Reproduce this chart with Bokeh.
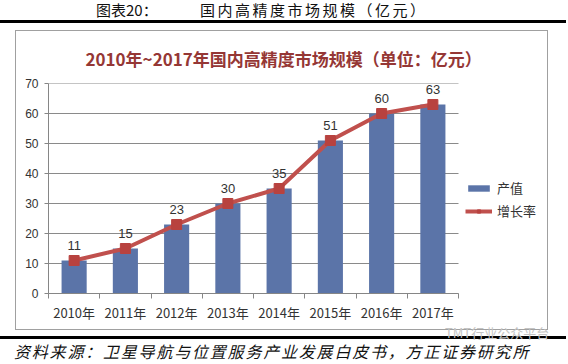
from bokeh.plotting import figure
from bokeh.models import (ColumnDataSource, FixedTicker, Legend, LegendItem, Title,
                          Div, Range1d)
from bokeh.layouts import column, row
from bokeh.core.properties import value
from bokeh.embed import file_html
from bokeh.resources import INLINE

# ---- data ----
categories = ["2010年", "2011年", "2012年", "2013年", "2014年", "2015年", "2016年", "2017年"]
output_values = [11, 15, 23, 30, 35, 51, 60, 63]      # 产值
growth_values = [11, 15, 23, 30, 35, 51, 60, 63]      # 增长率 line (drawn at same values)
y_ticks = [0, 10, 20, 30, 40, 50, 60, 70]

header_left = "图表20："
header_right = "国内高精度市场规模（亿元）"
chart_title = "2010年~2017年国内高精度市场规模（单位：亿元）"
source_text = "资料来源：卫星导航与位置服务产业发展白皮书，方正证券研究所"
watermark = "TMT行业公众平台"
legend_labels = ["产值", "增长率"]

CJK = "Noto Sans CJK SC"
LAT = "Liberation Sans"

# ---- layout constants (pixels) ----
PAGE_W = 566
FIG_W, FIG_H = 531, 298
BL, BR, BT, BB = 32, 3, 51, 36
CAT_PX = 410 / len(categories)           # pixel width of one category slot
frame_w = FIG_W - BL - BR
x_end = -0.5 + frame_w / CAT_PX           # frame extends right to hold the legend

xs = list(range(len(categories)))
src = ColumnDataSource(dict(x=xs, bar=output_values, line=growth_values,
                            lbl=[str(v) for v in output_values]))
grid_src = ColumnDataSource(dict(y=y_ticks))

p = figure(width=FIG_W, height=FIG_H, output_backend="svg", toolbar_location=None,
           x_range=Range1d(-0.5, x_end), y_range=Range1d(0, 70),
           min_border_left=BL, min_border_right=BR, min_border_top=BT, min_border_bottom=BB)
p.background_fill_color = "white"
p.border_fill_color = "white"
p.outline_line_color = None

# horizontal gridlines limited to the category area
p.segment(x0=-0.5, x1=len(categories) - 0.5, y0="y", y1="y", source=grid_src,
          line_color="#8A8A8A", line_width=1)

bars = p.vbar(x="x", top="bar", width=0.49, source=src, fill_color="#5B74A8", line_color=None)
ln = p.line(x="x", y="line", source=src, line_color="#C0504D", line_width=4)
mk = p.scatter(x="x", y="line", source=src, marker="square", size=10,
               fill_color="#B8423F", line_color="#B8423F")
p.text(x="x", y="line", text="lbl", source=src, text_align="center", text_baseline="bottom",
       y_offset=-11, text_font=value(LAT), text_font_size="13px", text_color="#333333")

# axes
p.xaxis.ticker = FixedTicker(ticks=xs, minor_ticks=[x - 0.5 for x in xs] + [xs[-1] + 0.5])
p.xaxis.major_label_overrides = {i: c for i, c in enumerate(categories)}
p.xaxis.bounds = (-0.5, len(categories) - 0.5)
p.xaxis.major_tick_out = 0
p.xaxis.major_tick_in = 0
p.xaxis.minor_tick_out = 5
p.xaxis.minor_tick_in = 0
p.xaxis.axis_line_color = "#868686"
p.xaxis.minor_tick_line_color = "#868686"
p.xaxis.major_label_text_font = CJK
p.xaxis.major_label_text_font_size = "13px"
p.xaxis.major_label_text_color = "#333333"
p.xaxis.major_label_standoff = 4

p.yaxis.ticker = FixedTicker(ticks=y_ticks)
p.yaxis.minor_tick_line_color = None
p.yaxis.major_tick_out = 4
p.yaxis.major_tick_in = 0
p.yaxis.axis_line_color = "#868686"
p.yaxis.major_tick_line_color = "#868686"
p.yaxis.major_label_text_font = LAT
p.yaxis.major_label_text_font_size = "12px"
p.yaxis.major_label_text_color = "#333333"
p.yaxis.major_label_standoff = 6

p.xgrid.grid_line_color = None
p.ygrid.grid_line_color = None

p.title = Title(text=chart_title, align="left", offset=37, text_color="#953735",
                text_font=CJK, text_font_size="17px", text_font_style="bold", standoff=25)

legend = Legend(items=[LegendItem(label=legend_labels[0], renderers=[bars]),
                       LegendItem(label=legend_labels[1], renderers=[ln, mk])],
                location=(417, 73), border_line_color=None, background_fill_alpha=0,
                label_text_font=CJK, label_text_font_size="13px", label_text_color="#333333",
                glyph_width=27, glyph_height=8, spacing=4, padding=0, margin=0)
p.add_layout(legend)

box = column(p, styles={"border": "1px solid #A0A0A0"}, margin=0)

header = Div(width=PAGE_W, height=30, margin=0,
             text=('<div style="position:relative;width:%dpx;height:30px;">' % PAGE_W +
                   '<div style="position:absolute;left:96px;top:1px;font-family:\'Noto Sans CJK SC\';'
                   'font-size:15px;line-height:18px;color:#111;white-space:nowrap;">' + header_left + '</div>'
                   '<div style="position:absolute;left:200px;top:1px;font-family:\'Noto Sans CJK SC\';'
                   'font-size:15px;line-height:18px;letter-spacing:2.5px;color:#111;white-space:nowrap;">'
                   + header_right + '</div>'
                   '<div style="position:absolute;left:0;top:20px;width:%dpx;height:3px;background:#000;"></div>' % PAGE_W +
                   '</div>'))
left_pad = Div(width=15, height=300, text="", margin=0)
footer = Div(width=PAGE_W, height=34, margin=0,
             text=('<div style="position:relative;width:%dpx;height:34px;">' % PAGE_W +
                   '<div style="position:absolute;left:0;top:6px;width:%dpx;height:3px;background:#000;"></div>' % PAGE_W +
                   '<div style="position:absolute;left:445px;top:-4px;font-family:\'Noto Sans CJK SC\';'
                   'font-size:13px;line-height:13px;color:#C4C4C4;white-space:nowrap;">' + watermark + '</div>'
                   '<div style="position:absolute;left:14px;top:12px;font-family:\'Noto Sans CJK SC\';'
                   'font-size:16px;font-style:italic;letter-spacing:1.8px;color:#111;white-space:nowrap;'
                   'line-height:18px;">' + source_text + '</div></div>'))

layout = column(header, row(left_pad, box, spacing=0, margin=0), footer, spacing=0, margin=0)

open("out.html", "w").write(file_html(layout, INLINE))
